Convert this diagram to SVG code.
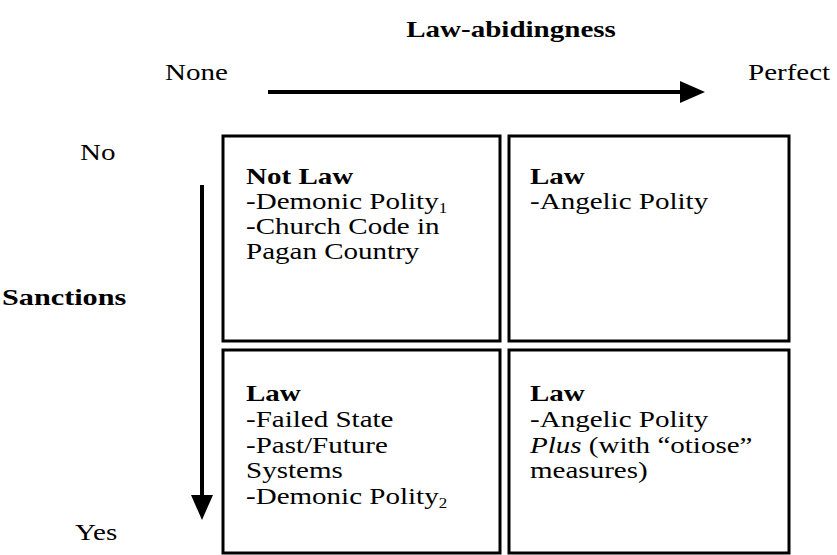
<svg xmlns="http://www.w3.org/2000/svg" width="837" height="555" viewBox="0 0 837 555">
<style>
text{font-family:"Liberation Serif","Times New Roman",serif;font-size:24px;fill:#000}
.b{font-weight:bold}
.box{fill:#fff;stroke:#000;stroke-width:3}
.ax{stroke:#000;stroke-width:4;fill:none}
.sub{font-size:14px}
</style>
<rect width="837" height="555" fill="#fff"/>
<g id="labels">
<text class="b" text-anchor="middle" transform="translate(511,37) scale(1.21,1)">Law-abidingness</text>
<text transform="translate(165,80) scale(1.21,1)">None</text>
<text transform="translate(748,80) scale(1.21,1)">Perfect</text>
<text transform="translate(80,160) scale(1.21,1)">No</text>
<text class="b" transform="translate(2,305) scale(1.26,1)">Sanctions</text>
<text transform="translate(75,540) scale(1.21,1)">Yes</text>
</g>
<g id="connectors">
<line class="ax" x1="268" y1="92" x2="680" y2="92"/>
<path d="M680,81 L705,92 L680,103 Z" fill="#000"/>
<line class="ax" x1="202" y1="185" x2="202" y2="495"/>
<path d="M191,495 L202,520 L213,495 Z" fill="#000"/>
</g>
<g id="cell-nolaw">
<rect class="box" x="223" y="136" width="277" height="205"/>
<text class="b" transform="translate(246,184) scale(1.21,1)">Not Law</text>
<text transform="translate(246,209) scale(1.21,1)">-Demonic Polity<tspan class="sub" dy="4">1</tspan></text>
<text transform="translate(246,234) scale(1.21,1)">-Church Code in</text>
<text transform="translate(246,259) scale(1.21,1)">Pagan Country</text>
</g>
<g id="cell-angelic">
<rect class="box" x="509" y="136" width="280" height="205"/>
<text class="b" transform="translate(530,184) scale(1.21,1)">Law</text>
<text transform="translate(530,209) scale(1.21,1)">-Angelic Polity</text>
</g>
<g id="cell-failed">
<rect class="box" x="223" y="350" width="277" height="203"/>
<text class="b" transform="translate(246,401) scale(1.21,1)">Law</text>
<text transform="translate(246,427) scale(1.21,1)">-Failed State</text>
<text transform="translate(246,453) scale(1.21,1)">-Past/Future</text>
<text transform="translate(246,478) scale(1.21,1)">Systems</text>
<text transform="translate(246,504) scale(1.21,1)">-Demonic Polity<tspan class="sub" dy="4">2</tspan></text>
</g>
<g id="cell-plus">
<rect class="box" x="509" y="350" width="280" height="203"/>
<text class="b" transform="translate(530,401) scale(1.21,1)">Law</text>
<text transform="translate(530,427) scale(1.21,1)">-Angelic Polity</text>
<text transform="translate(530,453) scale(1.21,1)"><tspan font-style="italic">Plus</tspan> (with “otiose”</text>
<text transform="translate(530,478) scale(1.21,1)">measures)</text>
</g>
</svg>
